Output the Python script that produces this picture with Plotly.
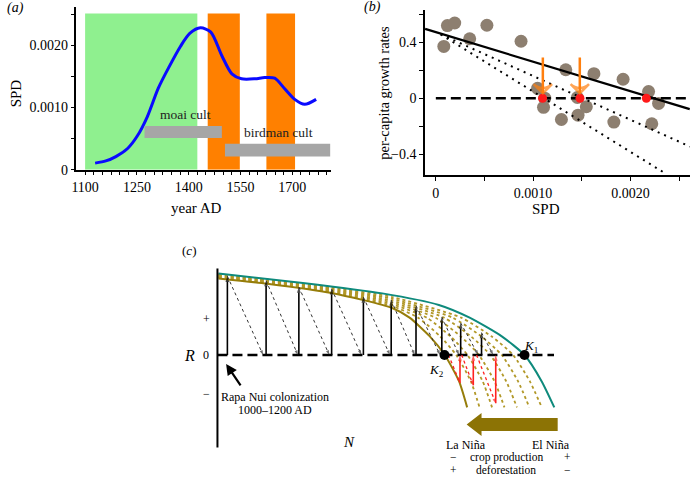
import plotly.graph_objects as go

W, H = 692, 484
FONT = "Liberation Serif"

# ---------------- Panel (a) data ----------------
a_years = [1129, 1160, 1189, 1223, 1251, 1280, 1312, 1342, 1376, 1403, 1434, 1464,
           1496, 1525, 1553, 1592, 1620, 1649, 1678, 1707, 1736, 1769]
a_spd = [0.000105, 0.00014, 0.00021, 0.00034, 0.00054, 0.00085, 0.00131, 0.00164,
         0.00198, 0.00219, 0.00228, 0.00221, 0.00183, 0.00154, 0.00146, 0.00146,
         0.00148, 0.00147, 0.00130, 0.00113, 0.00105, 0.00113]
a_green_period = [1100, 1425]
a_orange_periods = [[1455, 1548], [1625, 1708]]
a_band_top = 0.00251
a_cult_names = ["moai cult", "birdman cult"]
a_cult_start = [1272, 1505]
a_cult_end = [1496, 1810]
a_cult_low = [0.00051, 0.00021]
a_cult_high = [0.00070, 0.000415]
a_cult_label_x = [1392, 1659]
a_cult_label_y = [0.00089, 0.000605]
a_xtick_vals = list(range(1100, 1801, 25))
a_xtick_labels = ["1100", "1250", "1400", "1550", "1700"]
a_ytick_vals = [0, 0.0005, 0.0010, 0.0015, 0.0020, 0.0025]
a_ytick_text = ["0", "", "0.0010", "", "0.0020", ""]

# ---------------- Panel (b) data ----------------
b_spd = [0.000119, 0.000194, 0.000082, 0.000348, 0.000525, 0.000876, 0.001046,
         0.001107, 0.00112, 0.001291, 0.001336, 0.001455, 0.001462, 0.001547,
         0.001625, 0.00183, 0.001925, 0.002187, 0.00222, 0.00229]
b_rate = [0.518, 0.536, 0.369, 0.424, 0.520, 0.406, 0.070, -0.065, 0.0, -0.152,
          0.203, 0.005, -0.121, -0.061, 0.175, -0.170, 0.135, 0.047, -0.182, -0.037]
b_equilibria = [0.001097, 0.001482, 0.002164]
b_fit_x = [-0.00011, 0.00261]
b_fit_y = [0.494, -0.078]
b_dot1_x = [0.00005, 0.002613]
b_dot1_y = [0.455, -0.345]
b_dot2_x = [0.00005, 0.002358]
b_dot2_y = [0.455, -0.536]
b_zero_x = [0.0, 0.00261]
b_arrow_x = [0.00110, 0.00148]
b_arrow_from = 0.29
b_arrow_to = 0.035
b_xtick_vals = [0, 0.0005, 0.0010, 0.0015, 0.0020, 0.0025]
b_xtick_text = ["0", "", "0.0010", "", "0.0020", ""]
b_ytick_vals = [-0.4, -0.2, 0, 0.2, 0.4, 0.6]
b_ytick_text = ["\u22120.4", "", "0", "", "0.4", ""]

# ---------------- Panel (c) data (schematic, N / R units) ----------------
c_teal_N = [0.01, 0.86, 1.66, 2.23, 2.54, 2.864, 3.093, 3.265, 3.393]
c_teal_R = [2.18, 1.93, 1.65, 1.34, 1.0, 0.5, 0.0, -0.7, -1.4]
c_olive_N = [0.01, 0.5, 1.15, 1.76, 1.935, 2.139, 2.29, 2.433, 2.515]
c_olive_R = [2.05, 1.91, 1.66, 1.26, 1.0, 0.5, 0.0, -0.7, -1.4]
c_mid_N = [
    [0.01, 0.5, 1.15, 1.76, 2.021, 2.243, 2.405, 2.552, 2.640],
    [0.01, 0.5, 1.15, 1.76, 2.108, 2.346, 2.519, 2.671, 2.766],
    [0.01, 0.5, 1.15, 1.76, 2.194, 2.450, 2.634, 2.790, 2.891],
    [0.01, 0.5, 1.15, 1.76, 2.281, 2.553, 2.749, 2.908, 3.017],
    [0.01, 0.5, 1.15, 1.76, 2.367, 2.657, 2.864, 3.027, 3.142],
    [0.01, 0.5, 1.15, 1.76, 2.454, 2.760, 2.978, 3.146, 3.267],
]
c_mid_R = [
    [2.069, 1.929, 1.684, 1.309, 1.0, 0.5, 0.0, -0.7, -1.4],
    [2.087, 1.947, 1.709, 1.357, 1.0, 0.5, 0.0, -0.7, -1.4],
    [2.106, 1.966, 1.733, 1.406, 1.0, 0.5, 0.0, -0.7, -1.4],
    [2.124, 1.984, 1.757, 1.454, 1.0, 0.5, 0.0, -0.7, -1.4],
    [2.143, 2.003, 1.781, 1.503, 1.0, 0.5, 0.0, -0.7, -1.4],
    [2.161, 2.021, 1.806, 1.551, 1.0, 0.5, 0.0, -0.7, -1.4],
]
c_K1 = 3.093
c_K2 = 2.287
c_up_N = [0.10, 0.49, 0.82, 1.15, 1.47, 1.75, 2.00, 2.26, 2.45, 2.66]
c_up_R = [2.11, 1.99, 1.82, 1.77, 1.55, 1.47, 1.32, 1.02, 0.86, 0.60]
c_down_N = [0.46, 0.81, 1.127, 1.45, 1.737, 1.987, 2.243, 2.433, 2.627, 2.777]
c_red_N = [2.443, 2.577, 2.803]
c_red_R = [-0.745, -0.81, -1.29]
c_red_from_N = [2.327, 2.46, 2.61]
c_axis_R = [2.316, -2.474]
c_zero_N = [0.0, 3.39]
c_big_arrow = dict(tail=3.427, base=2.66, tip=2.51, mid=-1.86, shaft=0.175, head=0.307)

# ---------------- helpers ----------------
def px(x):
    return x / W

def py(y):
    return 1 - y / H

fig = go.Figure()

def arrow(x0, y0, x1, y1, color, width, dash, head, xa, ya, symbol="arrow", open_w=0):
    fig.add_trace(go.Scatter(
        x=[x0, x1], y=[y0, y1], mode="lines+markers", xaxis=xa, yaxis=ya,
        line=dict(color=color, width=width, dash=dash),
        marker=dict(symbol=["circle", symbol], size=[0, head], angleref="previous",
                    color=color, line=dict(width=open_w, color=color)),
        hoverinfo="skip", showlegend=False))

# ---------------- Panel (a) ----------------
shapes = []
shapes.append(dict(type="rect", xref="x", yref="y", x0=a_green_period[0], x1=a_green_period[1],
                   y0=0, y1=a_band_top, fillcolor="#8ff08f", line=dict(width=0), layer="below"))
for s, e in a_orange_periods:
    shapes.append(dict(type="rect", xref="x", yref="y", x0=s, x1=e, y0=0, y1=a_band_top,
                       fillcolor="#ff8000", line=dict(width=0), layer="below"))
for i in range(len(a_cult_names)):
    shapes.append(dict(type="rect", xref="x", yref="y", x0=a_cult_start[i], x1=a_cult_end[i],
                       y0=a_cult_low[i], y1=a_cult_high[i], fillcolor="#a6a6a6",
                       line=dict(width=0), layer="above"))

fig.add_trace(go.Scatter(x=a_years, y=a_spd, mode="lines", xaxis="x", yaxis="y",
                         line=dict(color="#0a0aff", width=3, shape="spline", smoothing=0.8),
                         hoverinfo="skip", showlegend=False))

# ---------------- Panel (b) ----------------
fig.add_trace(go.Scatter(x=b_spd, y=b_rate, mode="markers", xaxis="x2", yaxis="y2",
                         marker=dict(size=13, color="rgb(141,127,112)", line=dict(width=0)),
                         hoverinfo="skip", showlegend=False))
fig.add_trace(go.Scatter(x=b_zero_x, y=[0, 0], mode="lines", xaxis="x2", yaxis="y2",
                         line=dict(color="black", width=2.5, dash="10px,5px"),
                         hoverinfo="skip", showlegend=False))
fig.add_trace(go.Scatter(x=b_fit_x, y=b_fit_y, mode="lines", xaxis="x2", yaxis="y2",
                         line=dict(color="black", width=2.2),
                         hoverinfo="skip", showlegend=False))
for xs, ys in [(b_dot1_x, b_dot1_y), (b_dot2_x, b_dot2_y)]:
    fig.add_trace(go.Scatter(x=xs, y=ys, mode="lines", xaxis="x2", yaxis="y2",
                             line=dict(color="black", width=2, dash="2px,5px"),
                             hoverinfo="skip", showlegend=False))
fig.add_trace(go.Scatter(x=b_equilibria, y=[0] * len(b_equilibria), mode="markers",
                         xaxis="x2", yaxis="y2",
                         marker=dict(size=9, color="#ff1a1a", line=dict(width=0)),
                         hoverinfo="skip", showlegend=False))
for bx in b_arrow_x:
    arrow(bx, b_arrow_from, bx, b_arrow_to, "#ff7f0e", 2.5, "solid", 13, "x2", "y2",
          symbol="arrow-wide-open", open_w=2.5)

# ---------------- Panel (c) ----------------
for k in range(len(c_mid_N)):
    fig.add_trace(go.Scatter(x=c_mid_N[k], y=c_mid_R[k], mode="lines", xaxis="x3", yaxis="y3",
                             line=dict(color="rgb(178,152,40)", width=1.8, dash="dot",
                                       shape="spline", smoothing=0.6),
                             hoverinfo="skip", showlegend=False))
fig.add_trace(go.Scatter(x=c_olive_N, y=c_olive_R, mode="lines", xaxis="x3", yaxis="y3",
                         line=dict(color="rgb(150,125,10)", width=2, shape="spline", smoothing=0.6),
                         hoverinfo="skip", showlegend=False))
fig.add_trace(go.Scatter(x=c_teal_N, y=c_teal_R, mode="lines", xaxis="x3", yaxis="y3",
                         line=dict(color="#0e8a7c", width=2, shape="spline", smoothing=0.6),
                         hoverinfo="skip", showlegend=False))
fig.add_trace(go.Scatter(x=[0, 0], y=c_axis_R, mode="lines", xaxis="x3", yaxis="y3",
                         line=dict(color="black", width=2), hoverinfo="skip", showlegend=False))
fig.add_trace(go.Scatter(x=c_zero_N, y=[0, 0], mode="lines", xaxis="x3", yaxis="y3",
                         line=dict(color="black", width=2.5, dash="10px,5px"),
                         hoverinfo="skip", showlegend=False))
# growth steps
for i in range(len(c_up_N)):
    arrow(c_up_N[i], 0, c_up_N[i], c_up_R[i], "black", 1.6, "solid", 6, "x3", "y3")
    arrow(c_up_N[i], c_up_R[i], c_down_N[i], 0, "#333333", 1, "dot", 5, "x3", "y3")
# decline steps (red)
for i in range(len(c_red_N)):
    arrow(c_red_from_N[i], 0, c_red_N[i], c_red_R[i], "#ff2020", 1.3, "dot", 5, "x3", "y3")
    arrow(c_red_N[i], c_red_R[i], c_red_N[i], 0, "#ff2020", 1.6, "solid", 6, "x3", "y3")
fig.add_trace(go.Scatter(x=[c_K2, c_K1], y=[0, 0], mode="markers", xaxis="x3", yaxis="y3",
                         marker=dict(size=10, color="black"), hoverinfo="skip", showlegend=False))
ba = c_big_arrow
fig.add_trace(go.Scatter(
    x=[ba["tail"], ba["base"], ba["base"], ba["tip"], ba["base"], ba["base"], ba["tail"]],
    y=[ba["mid"] + ba["shaft"], ba["mid"] + ba["shaft"], ba["mid"] + ba["head"], ba["mid"],
       ba["mid"] - ba["head"], ba["mid"] - ba["shaft"], ba["mid"] - ba["shaft"]],
    mode="lines", fill="toself", fillcolor="rgb(140,115,5)", line=dict(width=0),
    xaxis="x3", yaxis="y3", hoverinfo="skip", showlegend=False))

# ---------------- annotations ----------------
ann = []

def txt(x, y, text, size, xref="paper", yref="paper", angle=0, xanchor="center",
        yanchor="middle", color="black"):
    ann.append(dict(x=x, y=y, xref=xref, yref=yref, text=text, showarrow=False,
                    textangle=angle, xanchor=xanchor, yanchor=yanchor,
                    font=dict(family=FONT, size=size, color=color)))

# panel a
txt(px(0), py(8), "<i>(a)</i>", 14, xanchor="left")
txt(px(12), py(95), "SPD", 15, angle=-90)
txt(px(193), py(211), "year AD", 15)
for i in range(len(a_cult_names)):
    txt(a_cult_label_x[i], a_cult_label_y[i], a_cult_names[i], 13.5, xref="x", yref="y",
        color="#222222")
# panel b
txt(px(370), py(7), "<i>(b)</i>", 14)
txt(px(382), py(94), "per-capita growth rates", 14.5, angle=-90)
txt(px(545), py(213), "SPD", 15)
# panel c
txt(-0.29, 2.79, "(<i>c</i>)", 13, "x3", "y3")
txt(-0.28, 0, "<i>R</i>", 16, "x3", "y3")
txt(-0.113, 0, "0", 12, "x3", "y3")
txt(-0.113, 0.966, "+", 12, "x3", "y3")
txt(-0.113, -1.03, "\u2212", 12, "x3", "y3")
txt(3.16, 0.24, "<i>K</i><sub>1</sub>", 13, "x3", "y3")
txt(2.21, -0.42, "<i>K</i><sub>2</sub>", 13, "x3", "y3")
txt(0.577, -1.13, "Rapa Nui colonization", 12, "x3", "y3")
txt(0.577, -1.48, "1000\u20131200 AD", 12, "x3", "y3")
txt(1.327, -2.34, "<i>N</i>", 15, "x3", "y3")
txt(2.50, -2.41, "La Niña", 12, "x3", "y3")
txt(3.36, -2.41, "El Niña", 12, "x3", "y3")
txt(2.377, -2.737, "\u2212", 11.5, "x3", "y3")
txt(2.91, -2.737, "crop production", 11.5, "x3", "y3")
txt(3.527, -2.737, "+", 11.5, "x3", "y3")
txt(2.377, -3.087, "+", 11.5, "x3", "y3")
txt(2.91, -3.087, "deforestation", 11.5, "x3", "y3")
txt(3.527, -3.087, "\u2212", 11.5, "x3", "y3")
ann.append(dict(x=0.087, y=-0.237, ax=0.243, ay=-0.85, xref="x3", yref="y3",
                axref="x3", ayref="y3", showarrow=True, arrowhead=2, arrowsize=1,
                arrowwidth=2.2, arrowcolor="black", text=""))

axis_common = dict(showline=True, linecolor="black", linewidth=1.5, ticks="outside",
                   ticklen=4, tickwidth=1.2, tickcolor="black", showgrid=False,
                   zeroline=False, tickfont=dict(family=FONT, size=14, color="black"),
                   tickangle=0, fixedrange=True)

fig.update_layout(
    width=W, height=H, margin=dict(l=0, r=0, t=0, b=0), autosize=False,
    paper_bgcolor="white", plot_bgcolor="rgba(0,0,0,0)", showlegend=False,
    xaxis=dict(domain=[px(72), px(328)], range=[1075, 1811], anchor="y",
               tickmode="array", tickvals=a_xtick_vals,
               ticktext=[str(v) if str(v) in a_xtick_labels else "" for v in a_xtick_vals],
               **axis_common),
    yaxis=dict(domain=[py(172.5), py(7)], range=[0, 0.002616], anchor="x",
               tickmode="array", tickvals=a_ytick_vals, ticktext=a_ytick_text, **axis_common),
    xaxis2=dict(domain=[px(423), px(690)], range=[-0.000112, 0.002613], anchor="y2",
                tickmode="array", tickvals=b_xtick_vals, ticktext=b_xtick_text, **axis_common),
    yaxis2=dict(domain=[py(178), py(10)], range=[-0.548, 0.63], anchor="x2",
                tickmode="array", tickvals=b_ytick_vals, ticktext=b_ytick_text, **axis_common),
    xaxis3=dict(domain=[0, 1], range=[-2.14, 4.78], visible=False, fixedrange=True, anchor="y3"),
    yaxis3=dict(domain=[0, 1], range=[-3.2368, 9.5], visible=False, fixedrange=True, anchor="x3"),
    shapes=shapes, annotations=ann,
    font=dict(family=FONT, size=14, color="black"),
)

fig.write_html("out.html", config={"displayModeBar": False},
               post_script="document.body.style.margin='0';document.body.style.overflow='hidden';")
